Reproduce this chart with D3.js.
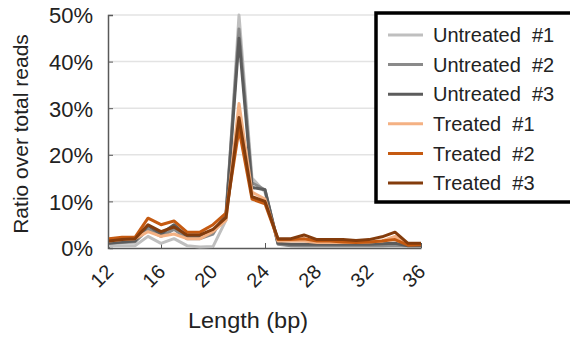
<!DOCTYPE html>
<html><head><meta charset="utf-8">
<script src="https://cdn.jsdelivr.net/npm/d3@7"></script>
<style>body{margin:0;background:#fff}svg{display:block}text{font-family:"Liberation Sans",Arial,sans-serif;fill:#222}</style>
</head><body><svg id="c" width="570" height="338"></svg>
<script>
const lengths = d3.range(12, 37);
const seriesNames = ["Untreated  #1","Untreated  #2","Untreated  #3","Treated  #1","Treated  #2","Treated  #3"];
const colors = ["#bfbfbf","#8a8a8a","#5c5c5c","#f4b183","#c55a11","#843c0c"];
const untreated1 = [0.5,0.5,0.5,2.5,1.0,2.0,0.5,0.2,0.3,6.0,50,15,12,1.0,0.5,0.3,0.3,0.3,0.3,0.3,0.3,0.3,0.4,0.3,0.3];
const untreated2 = [1.0,1.2,1.3,4.0,2.5,4.0,2.0,2.0,3.0,7.5,47,14,12.5,0.8,0.5,0.5,0.5,0.5,0.5,0.5,0.5,0.5,0.6,0.5,0.5];
const untreated3 = [1.0,1.3,1.5,4.8,3.0,5.0,2.5,2.5,3.5,7.0,45,13,12.5,1.0,0.8,0.8,0.8,0.8,0.8,0.8,0.8,0.9,1.0,0.5,0.5];
const treated1 = [1.5,1.8,2.0,3.5,2.5,3.0,2.0,2.0,3.5,6.0,31,12,10.5,1.5,1.5,1.5,1.2,1.2,1.2,1.2,1.3,1.5,2.5,0.8,0.8];
const treated2 = [2.0,2.3,2.3,6.4,5.0,5.8,3.4,3.4,5.0,7.5,25.5,10.5,9.5,1.8,1.8,2.0,1.5,1.5,1.3,1.2,1.3,1.5,1.8,0.6,0.7];
const treated3 = [1.5,1.8,2.0,5.0,3.5,4.5,2.8,2.8,4.0,6.5,28,11,10,2.0,2.0,2.8,1.8,1.8,1.8,1.6,1.8,2.4,3.4,1.0,1.0];
const allSeries = [untreated1,untreated2,untreated3,treated1,treated2,treated3];
const xTicks = [12,16,20,24,28,32,36];
const yTicks = [0,10,20,30,40,50];

const svg = d3.select("#c");
const x = d3.scaleLinear().domain([12,36]).range([109,421]);
const y = d3.scaleLinear().domain([0,50]).range([248,15]);

// gridlines
svg.append("g").selectAll("line").data(yTicks.filter(d=>d>0)).join("line")
  .attr("x1",108).attr("x2",424).attr("y1",d=>y(d)).attr("y2",d=>y(d))
  .attr("stroke","#e3e3e3").attr("stroke-width",1.5);

// y axis
const ya = svg.append("g").attr("transform","translate(108,0)")
  .call(d3.axisRight(y).tickValues(yTicks).tickSize(5).tickFormat(d=>d+"%"));
ya.select(".domain").attr("stroke","#595959").attr("stroke-width",1.5);
ya.selectAll(".tick line").attr("stroke","#595959");
ya.selectAll(".tick text").attr("x",-15).attr("text-anchor","end").attr("font-size",22).attr("fill","#222").attr("dy","0.36em");

// x axis
const xa = svg.append("g").attr("transform","translate(0,248)")
  .call(d3.axisTop(x).tickValues(xTicks).tickSize(5).tickSizeOuter(0).tickFormat(d=>d));
xa.select(".domain").attr("stroke","#595959").attr("stroke-width",1.5);
xa.selectAll(".tick line").attr("stroke","#595959");
xa.selectAll(".tick text").attr("text-anchor","end").attr("font-size",20).attr("fill","#222")
  .attr("y",0).attr("dy",0).attr("transform","translate(5,25) rotate(-45)");

// lines
const line = d3.line().x((d,i)=>x(lengths[i])).y(d=>y(d));
svg.append("g").selectAll("path").data(allSeries).join("path")
  .attr("d",line).attr("fill","none").attr("stroke",(d,i)=>colors[i])
  .attr("stroke-width",3).attr("stroke-linejoin","round");

// titles
svg.append("text").attr("x",248).attr("y",328).attr("text-anchor","middle").attr("font-size",22)
  .attr("textLength",120).attr("lengthAdjust","spacingAndGlyphs").text("Length (bp)");
svg.append("text").attr("transform","translate(28,134) rotate(-90)").attr("text-anchor","middle").attr("font-size",21).text("Ratio over total reads");

// legend
const lg = svg.append("g");
lg.append("rect").attr("x",376).attr("y",13).attr("width",200).attr("height",189)
  .attr("fill","#fff").attr("stroke","#000").attr("stroke-width",3.5);
const ly = d3.scaleLinear().domain([0,5]).range([35,183]);
const items = lg.selectAll("g.it").data(seriesNames).join("g").attr("class","it")
  .attr("transform",(d,i)=>`translate(0,${ly(i)})`);
items.append("line").attr("x1",388).attr("x2",423).attr("stroke",(d,i)=>colors[i]).attr("stroke-width",3);
items.append("text").attr("x",433).attr("dy","0.36em").attr("font-size",20).attr("xml:space","preserve")
  .style("white-space","pre").text(d=>d);
</script></body></html>
